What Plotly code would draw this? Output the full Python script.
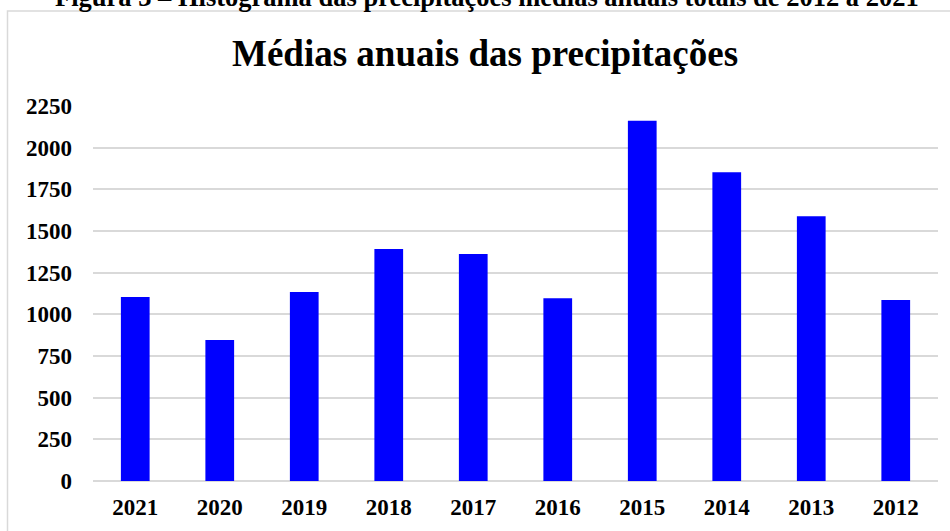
import plotly.graph_objects as go

years = ["2021", "2020", "2019", "2018", "2017", "2016", "2015", "2014", "2013", "2012"]
precip = [1104, 846, 1134, 1392, 1362, 1096, 2162, 1852, 1588, 1086]
y_ticks = [0, 250, 500, 750, 1000, 1250, 1500, 1750, 2000, 2250]

FONT = "Liberation Serif"

fig = go.Figure(go.Bar(x=years, y=precip, marker=dict(color="#0000ff", line=dict(width=0)), width=0.34))

W, H = 950, 531
L, R, T, B = 93, 12, 106, 50
pw, ph = W - L - R, H - T - B

def px(x):
    return (x - L) / pw

def py(y):
    return (H - B - y) / ph

tick_font = dict(family=FONT, size=23, color="black", weight="bold")

fig.update_layout(
    width=W, height=H,
    margin=dict(l=L, r=R, t=T, b=B),
    plot_bgcolor="white", paper_bgcolor="white",
    showlegend=False,
    font=dict(family=FONT, color="black"),
    xaxis=dict(type="category", tickfont=tick_font, automargin=False,
               showgrid=False, showline=False, ticks="", ticklabelstandoff=10),
    yaxis=dict(range=[0, 2250], tickvals=y_ticks, tickfont=tick_font, automargin=False,
               showgrid=True, gridcolor="#d9d9d9", gridwidth=1.5, zeroline=True,
               zerolinecolor="#d9d9d9", zerolinewidth=1.5, showline=False, ticks="",
               ticklabelstandoff=20),
    shapes=[dict(type="rect", xref="paper", yref="paper",
                 x0=px(7.5), x1=px(990), y0=py(580), y1=py(11),
                 line=dict(color="#d9d9d9", width=1.5), fillcolor="rgba(0,0,0,0)", layer="below")],
    annotations=[
        dict(text="<b>Médias anuais das precipitações</b>", xref="paper", yref="paper",
             x=px(485), y=py(53), xanchor="center", yanchor="middle", showarrow=False,
             font=dict(family=FONT, size=37, color="black")),
        dict(text="<b>Figura 3 – Histograma das precipitações médias anuais totais de 2012 a 2021</b>",
             xref="paper", yref="paper", x=px(487), y=py(14), xanchor="center", yanchor="bottom",
             showarrow=False, font=dict(family=FONT, size=26.5, color="black")),
    ],
)

fig.write_html("out.html", config={"displayModeBar": False},
               post_script="document.body.style.margin='0';document.body.style.padding='0';")
